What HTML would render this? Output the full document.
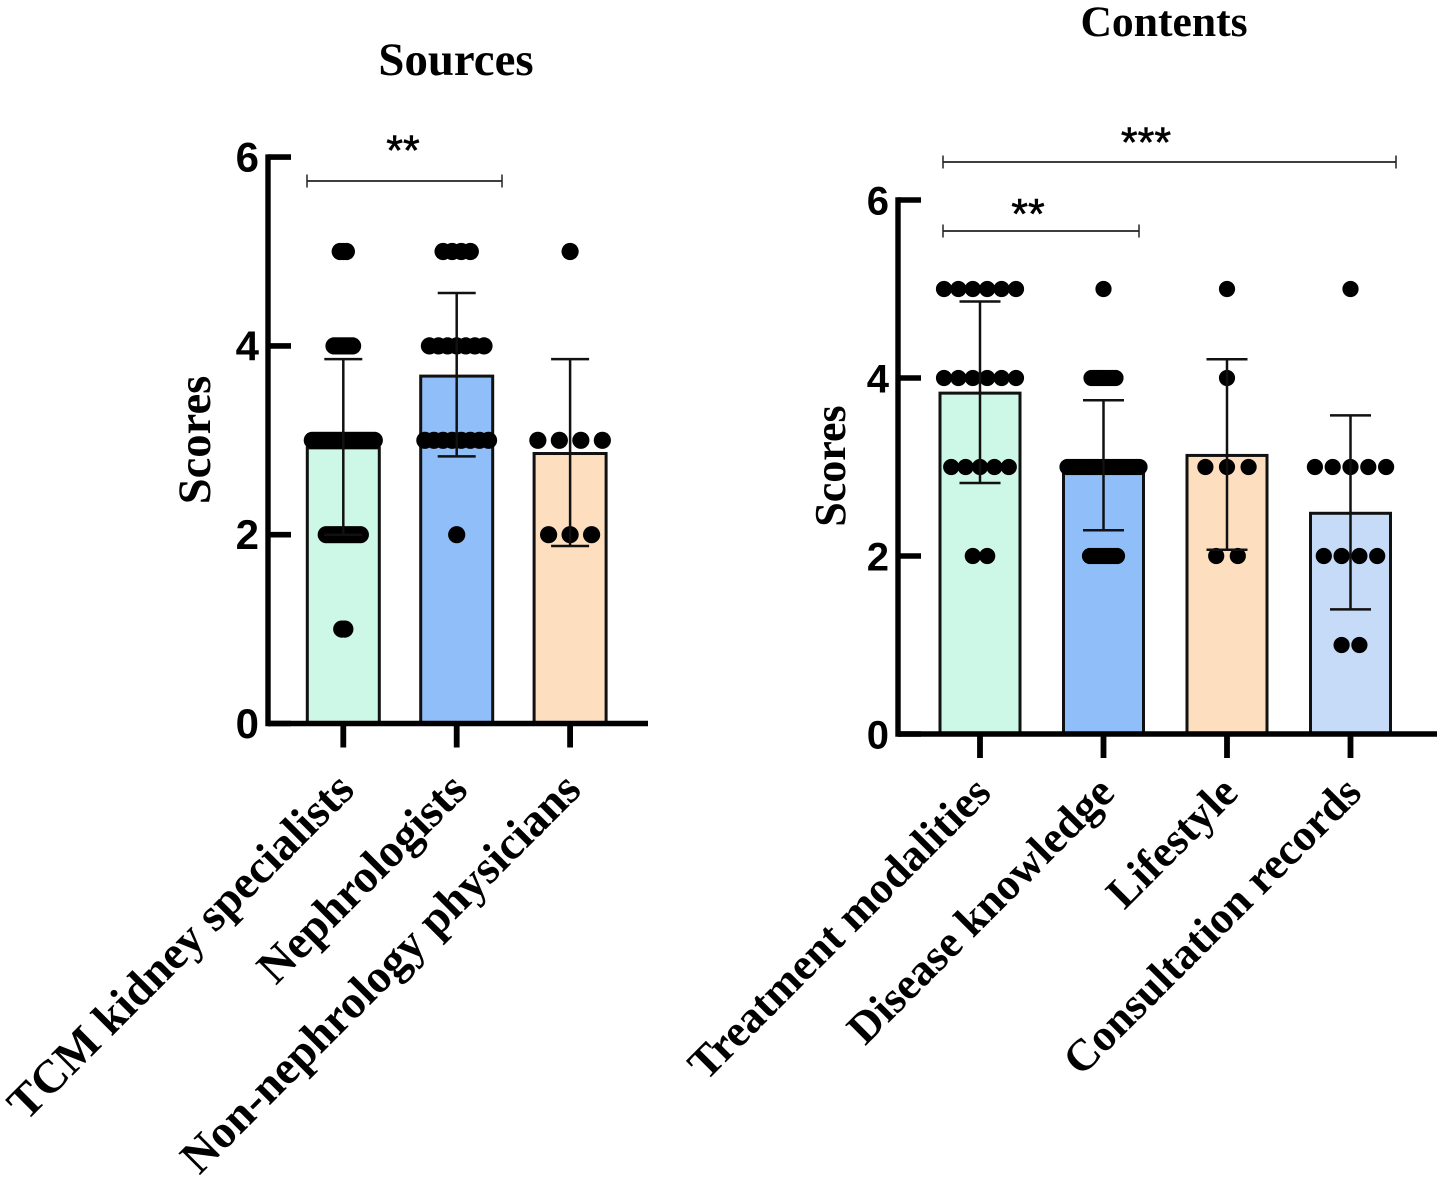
<!DOCTYPE html>
<html lang="en">
<head>
<meta charset="utf-8">
<title>Sources and Contents Scores</title>
<style>
html,body{margin:0;padding:0;background:#fff;}
svg{display:block;}
.serif{font-family:"Liberation Serif",serif;font-weight:bold;fill:#000;}
.sans{font-family:"Liberation Sans",sans-serif;font-weight:bold;fill:#000;}
</style>
</head>
<body>
<svg id="figure" xmlns="http://www.w3.org/2000/svg" width="1441" height="1183" viewBox="0 0 1441 1183"></svg>
<script>
const tickValues = [0, 2, 4, 6];
const dotScores = [5, 4, 3, 2, 1];

const sourcesCategories = ["TCM kidney specialists", "Nephrologists", "Non-nephrology physicians"];
const sourcesMeans = [2.92, 3.68, 2.86];
const sourcesErrorHigh = [3.86, 4.56, 3.86];
const sourcesErrorLow = [2.0, 2.83, 1.88];
const sourcesDotCounts = [[3, 7, 21, 12, 2], [4, 7, 8, 1, 0], [1, 0, 4, 3, 0]];

const contentsCategories = ["Treatment modalities", "Disease knowledge", "Lifestyle", "Consultation records"];
const contentsMeans = [3.83, 2.93, 3.13, 2.48];
const contentsErrorHigh = [4.86, 3.75, 4.21, 3.58];
const contentsErrorLow = [2.82, 2.29, 2.07, 1.40];
const contentsDotCounts = [[6, 6, 5, 2, 0], [1, 9, 25, 10, 0], [1, 1, 3, 2, 0], [1, 0, 5, 4, 2]];

const NS = "http://www.w3.org/2000/svg";
const root = document.getElementById("figure");

function make(parent, tag, attrs, text) {
  const el = document.createElementNS(NS, tag);
  for (const k in attrs) el.setAttribute(k, attrs[k]);
  if (text !== undefined) el.textContent = text;
  parent.appendChild(el);
  return el;
}

function drawBracket(parent, x1, x2, y, stars, starX, starY, name) {
  const g = make(parent, "g", {});
  
  
  make(g, "line", {x1: x1, x2: x2, y1: y, y2: y, stroke: "#222", "stroke-width": 1.7});
  make(g, "line", {x1: x1, x2: x1, y1: y - 6.5, y2: y + 6.5, stroke: "#222", "stroke-width": 1.5});
  make(g, "line", {x1: x2, x2: x2, y1: y - 6.5, y2: y + 6.5, stroke: "#222", "stroke-width": 1.5});
  make(g, "text", {x: starX, y: starY, "text-anchor": "middle", class: "sans", "font-size": 43, stroke: "#000", "stroke-width": 0.6, style: "font-weight:normal"}, stars);
}

function drawChart(c) {
  const g = make(root, "g", {});
  
  
  const yScale = v => c.y0 - v * c.unit;
  const xScale = i => c.x0 + i * c.step;

  c.categories.forEach((cat, i) => {
    const x = xScale(i);
    const group = make(g, "g", {});
    
    

    const bar = make(group, "rect", {
      x: x - c.barWidth / 2, y: yScale(c.means[i]),
      width: c.barWidth, height: c.y0 - yScale(c.means[i]),
      fill: c.colors[i], stroke: "#111", "stroke-width": 3
    });
    
    

    dotScores.forEach((score, s) => {
      const n = c.dotCounts[i][s];
      for (let k = 0; k < n; k++) {
        const dot = make(group, "circle", {
          cx: x + (k - (n - 1) / 2) * c.swarm[i], cy: yScale(score), r: c.dotR, fill: "#000"
        });
        
        
      }
    });

    const err = make(group, "g", {stroke: "#111", "stroke-width": 2.5});
    
    
    const hi = yScale(c.errHigh[i]), lo = yScale(c.errLow[i]);
    make(err, "line", {x1: x, x2: x, y1: hi, y2: lo});
    make(err, "line", {x1: x - c.cap, x2: x + c.cap, y1: hi, y2: hi});
    make(err, "line", {x1: x - c.cap, x2: x + c.cap, y1: lo, y2: lo});

    const tick = make(g, "line", {x1: x, x2: x, y1: c.y0, y2: c.y0 + 24, stroke: "#000", "stroke-width": 5.8});
    
    

    const lx = x + c.labelDx, ly = c.labelY;
    const label = make(g, "text", {
      x: lx, y: ly, "text-anchor": "end", class: "serif", "font-size": c.labelSize,
      transform: "rotate(-45 " + lx + " " + ly + ")"
    }, cat);
    
    
  });

  const axes = make(g, "g", {stroke: "#000", "stroke-width": 5.4, fill: "none"});
  
  
  make(axes, "line", {x1: c.axisX, x2: c.axisX, y1: yScale(6) - 2.7, y2: c.y0 + 2.7});
  make(axes, "line", {x1: c.axisX, x2: c.axisEnd, y1: c.y0, y2: c.y0});

  tickValues.forEach(v => {
    const t = make(g, "line", {x1: c.axisX, x2: c.axisX + 23, y1: yScale(v), y2: yScale(v), stroke: "#000", "stroke-width": 5.6});
    
    
    const tl = make(g, "text", {x: c.axisX - 9, y: yScale(v) + 14.5, "text-anchor": "end", class: "sans", "font-size": c.tickSize}, String(v));
    
    
  });

  const yt = make(g, "text", {
    x: c.yTitleX, y: c.yTitleY, "text-anchor": "middle", class: "serif", "font-size": c.yTitleSize,
    transform: "rotate(-90 " + c.yTitleX + " " + c.yTitleY + ")"
  }, "Scores");
  
  

  const title = make(g, "text", {x: c.titleX, y: c.titleY, "text-anchor": "middle", class: "serif", "font-size": c.titleSize}, c.title);
  
  
}

drawChart({
  name: "sources-chart", title: "Sources", titleX: 456, titleY: 75, titleSize: 46.8,
  categories: sourcesCategories, means: sourcesMeans, errHigh: sourcesErrorHigh, errLow: sourcesErrorLow, dotCounts: sourcesDotCounts,
  colors: ["#CDF7E7", "#90BEF9", "#FDDFC0"], swarm: [3.1, 9.1, 21.5],
  x0: 343.3, step: 113.4, y0: 723.5, unit: 94.4, barWidth: 72, dotR: 8.6, cap: 19,
  axisX: 268, axisEnd: 648, labelDx: 13, labelY: 792, labelSize: 46.7, tickSize: 42,
  yTitleX: 210, yTitleY: 440, yTitleSize: 46.6
});

drawChart({
  name: "contents-chart", title: "Contents", titleX: 1164, titleY: 36, titleSize: 43.6,
  categories: contentsCategories, means: contentsMeans, errHigh: contentsErrorHigh, errLow: contentsErrorLow, dotCounts: contentsDotCounts,
  colors: ["#CDF7E7", "#90BEF9", "#FDDFC0", "#C5DBF8"], swarm: [14.4, 3, 21.6, 17.8],
  x0: 980, step: 123.5, y0: 734, unit: 89, barWidth: 80, dotR: 8.1, cap: 20.5,
  axisX: 898, axisEnd: 1437, labelDx: 13, labelY: 795, labelSize: 44.6, tickSize: 40,
  yTitleX: 845, yTitleY: 466, yTitleSize: 44
});

drawBracket(root, 307, 502, 181, "**", 403, 165, "significance-bracket-sources");
drawBracket(root, 943, 1396, 162, "***", 1146, 157, "significance-bracket-contents-all");
drawBracket(root, 943, 1139, 231, "**", 1028, 228.5, "significance-bracket-contents-pair");
</script>
</body>
</html>
